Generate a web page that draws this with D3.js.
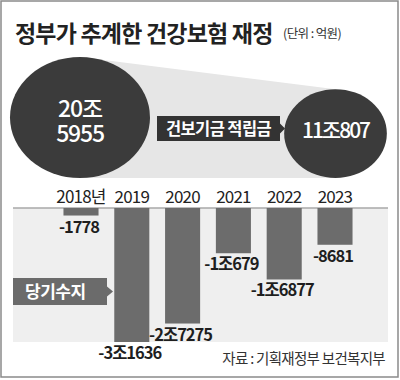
<!DOCTYPE html>
<html><head><meta charset="utf-8">
<script src="https://cdn.jsdelivr.net/npm/d3@7"></script>
<style>
html,body{margin:0;padding:0;background:#fff;}
svg{display:block;font-family:"Noto Sans CJK KR","Noto Sans",sans-serif;}
</style></head>
<body>
<script>
// ---- data ----
const years = ["2018년","2019","2020","2021","2022","2023"];
const balance = [-1778,-31636,-27275,-10679,-16877,-8681];
const balanceLabels = ["-1778","-3조1636","-2조7275","-1조679","-1조6877","-8681"];
const fundNames = ["2018","2023"];
const fundValues = [205955,110807];
const fundLabels = [["20조","5955"],["11조807"]];
const title = "정부가 추계한 건강보험 재정";
const unit = "(단위 : 억원)";
const fundTag = "건보기금 적립금";
const balanceTag = "당기수지";
const source = "자료 : 기획재정부 보건복지부";

const W=400,H=380;
const svg=d3.select("body").append("svg").attr("width",W).attr("height",H);

// border
svg.append("rect").attr("x",1).attr("y",1).attr("width",397).attr("height",376)
  .attr("fill","#fff").attr("stroke","#8a8a8a").attr("stroke-width",1.5);

// title
svg.append("text").attr("x",15).attr("y",42).attr("font-size",23).attr("font-weight",700)
  .attr("letter-spacing",-0.8).attr("fill","#222").text(title);
svg.append("text").attr("x",283).attr("y",38).attr("font-size",12.5)
  .attr("letter-spacing",-0.6).attr("fill","#333").text(unit);

// fund circles
const fx = d3.scalePoint().domain(fundNames).range([80,335.5]);
const fr = d3.scaleSqrt().domain([0,d3.max(fundValues)]).range([0,70]);
const aspect = 0.865, baseY = 178;
const circ = fundNames.map((n,i)=>{const rx=fr(fundValues[i]);const ry=rx*aspect;return {cx:fx(n),cy:baseY-ry,rx,ry};});

// connecting light polygon
svg.append("path")
  .attr("d",`M${circ[0].cx},${circ[0].cy-circ[0].ry} L${circ[1].cx},${circ[1].cy-circ[1].ry} L${circ[1].cx},${baseY} L${circ[0].cx},${baseY} Z`)
  .attr("fill","#e6e6e6");

svg.selectAll("ellipse.fund").data(circ).join("ellipse").attr("class","fund")
  .attr("cx",d=>d.cx).attr("cy",d=>d.cy).attr("rx",d=>d.rx).attr("ry",d=>d.ry)
  .attr("fill","#3b3b3b");

// labels inside circles (one text element per circle, lines as tspans)
fundLabels.forEach((lines,i)=>{
  const c=circ[i];
  const fs = i===0?23:21;
  const lh = 25;
  const y0 = i===0 ? c.cy - 0.5 : c.cy + 4;
  const t = svg.append("text").attr("y",y0)
    .attr("text-anchor","middle").attr("font-size",fs).attr("font-weight",500)
    .attr("letter-spacing",i===0?-1.2:-2).attr("fill","#fff");
  lines.forEach((s,j)=>{
    t.append("tspan").attr("x",c.cx).attr("dy",j===0?0:lh).text(s);
  });
});

// fund tag with arrow
(function(){
  const x0=157,x1=280,y0=116,y1=141,ym=(y0+y1)/2;
  svg.append("path").attr("d",`M${x0},${y0}H${x1}V${ym-5}L${x1+5},${ym}L${x1},${ym+5}V${y1}H${x0}Z`)
    .attr("fill","#333");
  svg.append("text").attr("x",(x0+x1)/2).attr("y",ym+6).attr("text-anchor","middle")
    .attr("font-size",16.5).attr("font-weight",700).attr("letter-spacing",-0.6)
    .attr("fill","#fff").text(fundTag);
})();

// bar chart panel
const panel={x0:13,x1:388,y0:208,y1:342};
svg.append("rect").attr("x",panel.x0).attr("y",panel.y0).attr("width",panel.x1-panel.x0)
  .attr("height",panel.y1-panel.y0).attr("fill","#efefef");
svg.append("line").attr("x1",panel.x0).attr("x2",panel.x1).attr("y1",panel.y0).attr("y2",panel.y0)
  .attr("stroke","#a8a8a8").attr("stroke-width",1.5);

const x=d3.scaleBand().domain(years).range([55.6,360.4]).paddingInner(0.31).paddingOuter(0.155);
const y=d3.scaleLinear().domain([0,d3.min(balance)]).range([panel.y0,panel.y1]);

svg.selectAll("rect.bar").data(years).join("rect").attr("class","bar")
  .attr("x",d=>x(d)).attr("width",x.bandwidth())
  .attr("y",y(0)).attr("height",(d,i)=>y(balance[i])-y(0))
  .attr("fill","#6c6c6c");

// year labels
svg.selectAll("text.year").data(years).join("text").attr("class","year")
  .attr("x",d=>x(d)+x.bandwidth()/2).attr("y",203).attr("text-anchor","middle")
  .attr("font-size",17).attr("letter-spacing",-0.8).attr("fill","#222").text(d=>d);

// value labels
svg.selectAll("text.val").data(years).join("text").attr("class","val")
  .attr("x",d=>x(d)+x.bandwidth()/2-2).attr("y",(d,i)=>y(balance[i])+17)
  .attr("text-anchor","middle").attr("font-size",16.5).attr("font-weight",700)
  .attr("letter-spacing",-1).attr("fill","#1e1e1e").text((d,i)=>balanceLabels[i]);

// balance tag
(function(){
  const x0=13,x1=107,y0=278,y1=305,ym=(y0+y1)/2;
  svg.append("path").attr("d",`M${x0},${y0}H${x1}V${ym-5}L${x1+6},${ym}L${x1},${ym+5}V${y1}H${x0}Z`)
    .attr("fill","#6b6b6b");
  svg.append("text").attr("x",25).attr("y",ym+6).attr("font-size",17).attr("font-weight",700)
    .attr("letter-spacing",-0.5).attr("fill","#fff").text(balanceTag);
})();

// source
svg.append("text").attr("x",385).attr("y",364).attr("text-anchor","end").attr("font-size",14.5)
  .attr("letter-spacing",-0.7).attr("fill","#333").text(source);
</script>
</body></html>
